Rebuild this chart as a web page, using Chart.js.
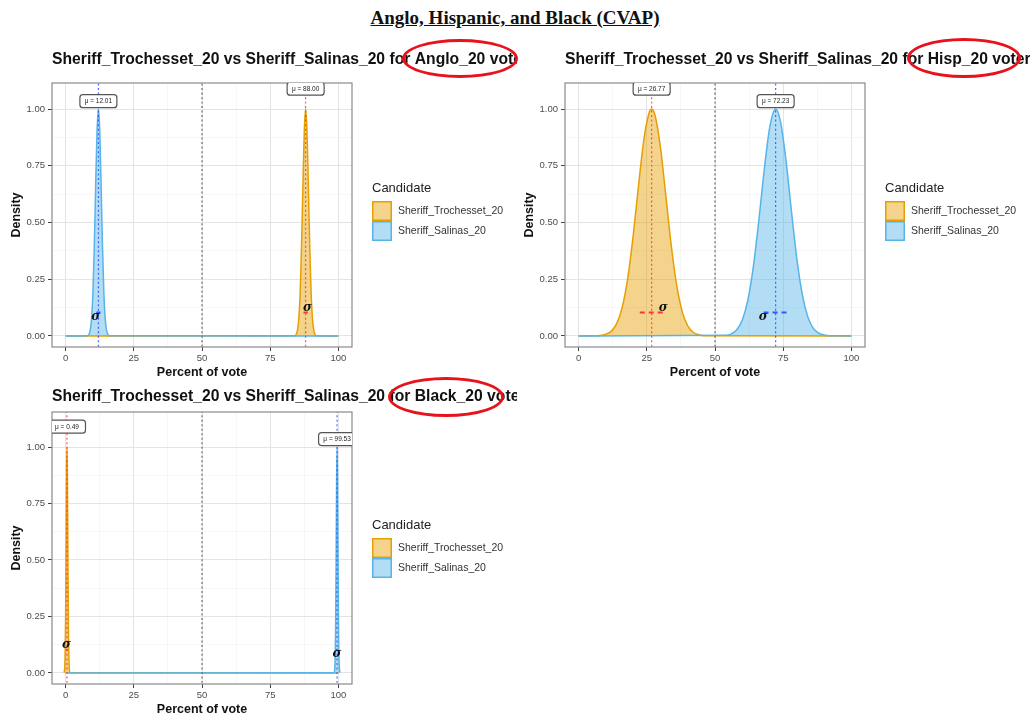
<!DOCTYPE html>
<html><head><meta charset="utf-8">
<script src="https://cdn.jsdelivr.net/npm/chart.js@4.4.1/dist/chart.umd.min.js"></script>
<style>
html,body{margin:0;padding:0;background:#fff}
body{width:1030px;height:717px;overflow:hidden;position:relative;font-family:"Liberation Sans",Arial,sans-serif}
.cv{position:absolute}
#mainTitle{position:absolute;left:0;top:7px;width:1030px;text-align:center;font:bold 19px "Liberation Serif","Times New Roman",serif;text-decoration:underline;color:#111;line-height:22px}
.ring{position:absolute;border:3.5px solid #e8121c;border-radius:50%;box-sizing:border-box;pointer-events:none;z-index:5}
</style></head><body>
<div id="mainTitle">Anglo, Hispanic, and Black (CVAP)</div>
<div class="cv" style="left:0;top:40px"><canvas id="c1" width="517" height="340"></canvas></div>
<div class="cv" style="left:513px;top:40px"><canvas id="c2" width="517" height="340"></canvas></div>
<div class="cv" style="left:0;top:377px"><canvas id="c3" width="517" height="340"></canvas></div>
<div class="ring" style="left:402px;top:39px;width:116px;height:39px"></div>
<div class="ring" style="left:907px;top:38px;width:114px;height:40px"></div>
<div class="ring" style="left:388px;top:377px;width:116px;height:40px"></div>
<script>
// ---------- data ----------
const candidates = ['Sheriff_Trochesset_20', 'Sheriff_Salinas_20'];
const groups = ['Anglo_20', 'Hisp_20', 'Black_20'];
const xMajorTicks = [0, 25, 50, 75, 100];
const xMinorTicks = [12.5, 37.5, 62.5, 87.5];
const yMajorTicks = [0, 0.25, 0.5, 0.75, 1];
const yMinorTicks = [0.125, 0.375, 0.625, 0.875];
const splitLine = 50;

// Anglo
const angloTrochX = [0, 84, 85, 85.5, 86, 86.5, 87, 87.5, 88, 88.5, 89, 89.5, 90, 90.5, 91, 92, 100];
const angloTrochY = [0, 0.001, 0.024, 0.076, 0.19, 0.395, 0.66, 0.90, 1.00, 0.90, 0.66, 0.395, 0.19, 0.076, 0.024, 0.001, 0];
const angloSalX = [0, 8, 9, 9.5, 10, 10.5, 11, 11.5, 12.01, 12.5, 13, 13.5, 14, 14.5, 15, 16, 100];
const angloSalY = [0, 0.001, 0.024, 0.074, 0.188, 0.39, 0.656, 0.898, 1.00, 0.906, 0.667, 0.40, 0.195, 0.077, 0.025, 0.001, 0];
const angloMeans = [88.00, 12.01];
const angloSigmaBars = [[87.2, 88.8], [11.2, 12.8]];
const angloSigmaText = [[88.7, 0.123], [11.0, 0.083]];

// Hispanic
const hispTrochX = [0, 8, 10, 12, 14, 16, 18, 20, 22, 24, 26, 26.77, 28, 30, 32, 34, 36, 38, 40, 42, 44, 46, 100];
const hispTrochY = [0, 0.002, 0.007, 0.021, 0.055, 0.127, 0.254, 0.442, 0.667, 0.872, 0.989, 1.00, 0.973, 0.831, 0.615, 0.394, 0.220, 0.106, 0.044, 0.016, 0.005, 0.001, 0];
const hispSalX = [0, 54, 56, 58, 60, 62, 64, 66, 68, 70, 72, 72.23, 74, 76, 78, 80, 82, 84, 86, 88, 90, 92, 100];
const hispSalY = [0, 0.003, 0.009, 0.027, 0.070, 0.155, 0.300, 0.501, 0.727, 0.915, 0.999, 1.00, 0.946, 0.777, 0.553, 0.341, 0.183, 0.085, 0.034, 0.012, 0.004, 0.001, 0];
const hispMeans = [26.77, 72.23];
const hispSigmaBars = [[22.4, 31.2], [67.8, 77.3]];
const hispSigmaText = [[31.0, 0.122], [67.7, 0.082]];

// Black
const blackTrochX = [-0.6, -0.3, 0, 0.2, 0.35, 0.49, 0.65, 0.8, 1.0, 1.3, 1.6, 100];
const blackTrochY = [0.001, 0.031, 0.26, 0.63, 0.90, 1.00, 0.87, 0.59, 0.236, 0.026, 0.001, 0];
const blackSalX = [0, 98.4, 98.7, 99.0, 99.2, 99.35, 99.53, 99.7, 99.85, 100.05, 100.3, 100.6];
const blackSalY = [0, 0.001, 0.022, 0.21, 0.55, 0.835, 1.00, 0.85, 0.57, 0.22, 0.037, 0.002];
const blackMeans = [0.49, 99.53];
const blackSigmaBars = [[0.2, 0.8], [99.2, 99.8]];
const blackSigmaText = [[0.3, 0.124], [99.5, 0.084]];

const meanLabelY = [1.09, 1.035];
const sigmaBarY = 0.103;

// ---------- styling ----------
const FONT = '"Liberation Sans", Arial, Helvetica, sans-serif';
const COL = ['#E69F00', '#56B4E9'];
const FILL = ['rgba(230,159,0,0.45)', 'rgba(86,180,233,0.45)'];
const MEANCOL = ['rgba(255,45,45,0.8)', 'rgba(35,70,255,0.8)'];
const SIGCOL = ['#ff3636', '#3357ff'];

function pts(xs, ys) { return xs.map((x, i) => ({x: x, y: ys[i]})); }

const decor = {
  id: 'decor',
  afterDraw(chart) {
    const o = chart.options.plugins.decor;
    const {ctx, chartArea: a, scales: {x, y}} = chart;
    ctx.save();
    // panel border
    ctx.strokeStyle = '#8a8a8a'; ctx.lineWidth = 1.2;
    ctx.strokeRect(a.left, a.top, a.right - a.left, a.bottom - a.top);
    // sigma symbols
    ctx.fillStyle = '#111';
    ctx.font = 'italic bold 12px "DejaVu Serif", "Liberation Serif", serif';
    ctx.textAlign = 'center'; ctx.textBaseline = 'middle';
    o.sigmaText.forEach(p => ctx.fillText('σ', x.getPixelForValue(p[0]), y.getPixelForValue(p[1])));
    // mean labels, clipped to panel
    ctx.save();
    ctx.beginPath(); ctx.rect(a.left, a.top, a.right - a.left, a.bottom - a.top); ctx.clip();
    o.means.forEach((m, i) => {
      const cx = x.getPixelForValue(m), cy = y.getPixelForValue(meanLabelY[i]);
      const w = 37, h = 13, r = 3;
      ctx.beginPath(); ctx.roundRect(cx - w / 2, cy - h / 2, w, h, r);
      ctx.fillStyle = '#fff'; ctx.fill();
      ctx.strokeStyle = '#555'; ctx.lineWidth = 1.2; ctx.stroke();
      ctx.fillStyle = '#222'; ctx.font = '6.5px ' + FONT;
      ctx.fillText('μ = ' + m.toFixed(2), cx, cy + 0.5);
    });
    ctx.restore();
    // plot title
    ctx.fillStyle = '#111'; ctx.font = 'bold 15.7px ' + FONT;
    ctx.textAlign = 'left'; ctx.textBaseline = 'middle';
    ctx.fillText(o.title, a.left, 20);
    // legend
    const lx = 372, ly = 148;
    ctx.fillStyle = '#222'; ctx.font = '13px ' + FONT;
    ctx.fillText('Candidate', lx, ly);
    candidates.forEach((c, i) => {
      const sy = 161 + i * 20;
      ctx.fillStyle = '#fff'; ctx.fillRect(lx, sy, 20, 20);
      ctx.fillStyle = FILL[i]; ctx.fillRect(lx, sy, 20, 20);
      ctx.strokeStyle = COL[i]; ctx.lineWidth = 1.5; ctx.strokeRect(lx + 0.75, sy + 0.75, 18.5, 18.5);
      ctx.fillStyle = '#333'; ctx.font = '10.5px ' + FONT;
      ctx.fillText(c, lx + 26, sy + 10);
    });
    ctx.restore();
  }
};

function makeChart(id, group, trochX, trochY, salX, salY, means, sigBars, sigText, padTop, yMax) {
  const datasets = [
    {data: pts(trochX, trochY), borderColor: COL[0], backgroundColor: FILL[0], fill: 'origin', borderWidth: 1.5, order: 6},
    {data: pts(salX, salY), borderColor: COL[1], backgroundColor: FILL[1], fill: 'origin', borderWidth: 1.5, order: 5},
    {data: pts(sigBars[0], [sigmaBarY, sigmaBarY]), borderColor: SIGCOL[0], borderWidth: 2, borderDash: [5, 4], fill: false, order: 3},
    {data: pts(sigBars[1], [sigmaBarY, sigmaBarY]), borderColor: SIGCOL[1], borderWidth: 2, borderDash: [5, 4], fill: false, order: 3},
    {data: pts([splitLine, splitLine], [-1, 2]), borderColor: '#6a6a6a', borderWidth: 1.2, borderDash: [2, 2.5], fill: false, order: 2},
    {data: pts([means[0], means[0]], [-1, 2]), borderColor: MEANCOL[0], borderWidth: 1.2, borderDash: [2, 2.5], fill: false, order: 1},
    {data: pts([means[1], means[1]], [-1, 2]), borderColor: MEANCOL[1], borderWidth: 1.2, borderDash: [2, 2.5], fill: false, order: 1}
  ];
  const gridColor = (ctx, majors) => majors.includes(ctx.tick && ctx.tick.value) ? '#e4e4e4' : '#f3f3f3';
  return new Chart(document.getElementById(id), {
    type: 'line',
    data: {datasets: datasets},
    plugins: [decor],
    options: {
      responsive: false, animation: false, devicePixelRatio: 1,
      elements: {point: {radius: 0}, line: {cubicInterpolationMode: 'monotone'}},
      layout: {padding: {top: padTop, right: 165, left: 0, bottom: 0}},
      plugins: {
        legend: {display: false}, tooltip: {enabled: false}, title: {display: false},
        decor: {title: 'Sheriff_Trochesset_20 vs Sheriff_Salinas_20 for ' + group + ' voters',
                means: means, sigmaText: sigText}
      },
      scales: {
        x: {
          type: 'linear', min: -5, max: 105,
          afterBuildTicks: s => { s.ticks = xMajorTicks.concat(xMinorTicks).sort((a, b) => a - b).map(v => ({value: v})); },
          afterFit: s => { s.height = 33; },
          ticks: {autoSkip: false, maxRotation: 0, padding: 2, color: '#4d4d4d', font: {family: FONT, size: 9.5},
                  callback: v => xMajorTicks.includes(v) ? String(v) : ''},
          grid: {color: c => gridColor(c, xMajorTicks), lineWidth: c => xMajorTicks.includes(c.tick && c.tick.value) ? 1 : 0.7,
                 drawTicks: true, tickLength: 4, tickWidth: 1,
                 tickColor: c => xMajorTicks.includes(c.tick && c.tick.value) ? '#444' : 'rgba(0,0,0,0)'},
          border: {display: false},
          title: {display: true, text: 'Percent of vote', color: '#111', font: {family: FONT, size: 12.5, weight: 'bold'}, padding: {top: 0, bottom: 0}}
        },
        y: {
          type: 'linear', min: -0.049, max: yMax,
          afterBuildTicks: s => { s.ticks = yMajorTicks.concat(yMinorTicks).sort((a, b) => a - b).map(v => ({value: v})); },
          afterFit: s => { s.width = 52; },
          ticks: {autoSkip: false, padding: 3, color: '#4d4d4d', font: {family: FONT, size: 9.5},
                  callback: v => yMajorTicks.includes(v) ? v.toFixed(2) : ''},
          grid: {color: c => gridColor(c, yMajorTicks), lineWidth: c => yMajorTicks.includes(c.tick && c.tick.value) ? 1 : 0.7,
                 drawTicks: true, tickLength: 4, tickWidth: 1,
                 tickColor: c => yMajorTicks.includes(c.tick && c.tick.value) ? '#444' : 'rgba(0,0,0,0)'},
          border: {display: false},
          title: {display: true, text: 'Density', color: '#111', font: {family: FONT, size: 12.5, weight: 'bold'}, padding: {top: 9, bottom: 0}}
        }
      }
    }
  });
}

makeChart('c1', groups[0], angloTrochX, angloTrochY, angloSalX, angloSalY, angloMeans, angloSigmaBars, angloSigmaText, 43, 1.115);
makeChart('c2', groups[1], hispTrochX, hispTrochY, hispSalX, hispSalY, hispMeans, hispSigmaBars, hispSigmaText, 43, 1.115);
makeChart('c3', groups[2], blackTrochX, blackTrochY, blackSalX, blackSalY, blackMeans, blackSigmaBars, blackSigmaText, 35, 1.155);
</script>
</body></html>
